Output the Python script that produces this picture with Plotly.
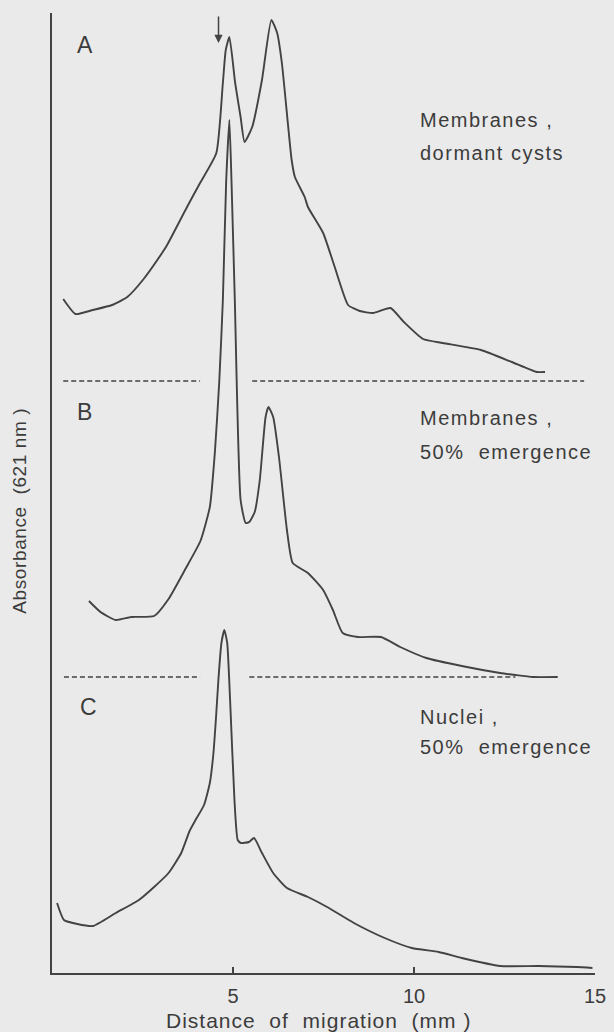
import plotly.graph_objects as go

# ---- data (distance in mm, absorbance in arbitrary units above each trace's baseline) ----
a_x = [0.31, 0.65, 1.13, 1.66, 2.08, 2.51, 3.04, 3.18, 3.73, 4.09, 4.54, 4.72, 4.80, 4.90,
       5.06, 5.21, 5.32, 5.53, 5.80, 6.06, 6.22, 6.35, 6.62, 6.71, 6.98, 7.07, 7.49, 7.81,
       8.18, 8.50, 8.87, 9.35, 9.72, 10.25, 10.79, 11.85, 12.70, 13.39, 13.62]
a_y = [0.82, 0.67, 0.71, 0.76, 0.84, 1.01, 1.28, 1.36, 1.74, 1.98, 2.28, 2.98, 3.31, 3.44,
       2.98, 2.64, 2.39, 2.54, 3.01, 3.61, 3.48, 3.18, 2.21, 2.04, 1.84, 1.74, 1.48, 1.14,
       0.76, 0.70, 0.68, 0.73, 0.59, 0.42, 0.38, 0.31, 0.19, 0.09, 0.09]

b_x = [1.02, 1.34, 1.76, 2.19, 2.82, 3.22, 3.70, 4.10, 4.36, 4.50, 4.62, 4.72, 4.81, 4.90,
       4.96, 5.05, 5.21, 5.35, 5.45, 5.60, 5.74, 5.90, 5.98, 6.11, 6.27, 6.49, 6.65, 7.07,
       7.49, 7.76, 8.03, 8.45, 9.09, 9.62, 10.34, 11.32, 12.38, 12.80, 13.28, 13.97]
b_y = [0.76, 0.65, 0.57, 0.60, 0.61, 0.78, 1.09, 1.36, 1.70, 2.25, 2.95, 3.77, 4.94, 5.57,
       4.94, 3.77, 1.77, 1.54, 1.55, 1.65, 1.97, 2.60, 2.70, 2.60, 2.20, 1.47, 1.14, 1.04,
       0.87, 0.67, 0.44, 0.40, 0.40, 0.30, 0.19, 0.11, 0.04, 0.02, 0.00, 0.00]

c_x = [0.14, 0.33, 0.70, 1.13, 1.76, 2.40, 2.82, 3.22, 3.57, 3.80, 3.95, 4.20, 4.36, 4.46,
       4.53, 4.60, 4.68, 4.76, 4.84, 4.92, 5.04, 5.13, 5.22, 5.44, 5.58, 5.80, 6.11, 6.49,
       7.07, 7.60, 8.34, 9.19, 9.94, 10.68, 11.32, 12.38, 13.44, 14.50, 14.93]
c_y = [0.70, 0.53, 0.49, 0.47, 0.60, 0.73, 0.86, 1.00, 1.20, 1.42, 1.52, 1.68, 1.90, 2.20,
       2.55, 2.95, 3.30, 3.43, 3.30, 2.73, 1.73, 1.33, 1.30, 1.31, 1.35, 1.20, 1.00, 0.85,
       0.76, 0.66, 0.50, 0.35, 0.25, 0.21, 0.15, 0.07, 0.07, 0.06, 0.05]

panel_letters = ["A", "B", "C"]
panel_line1 = ["Membranes ,", "Membranes ,", "Nuclei ,"]
panel_line2 = ["dormant cysts", "50%  emergence", "50%  emergence"]

# baseline segments (mm) drawn dashed for the upper two traces
dash_a = [(0.31, 4.09), (5.53, 14.70)]
dash_b = [(0.33, 4.09), (5.45, 12.80)]

x_ticks = [5, 10, 15]
marker_x = 4.60  # arrow position (mm)

# ---- styling ----
OFF_A, OFF_B, OFF_C = 5.92, 2.96, 0.0
LINE = "#434343"
TXT = "#3c3c3c"
BG = "#eaeaea"
FONT = "Liberation Sans, Arial, sans-serif"


def sp(t, ls=1.2):
    return f'<span style="letter-spacing:{ls}px">{t}</span>'


fig = go.Figure()

for xs, ys, off in [(a_x, a_y, OFF_A), (b_x, b_y, OFF_B), (c_x, c_y, OFF_C)]:
    fig.add_trace(go.Scatter(x=xs, y=[v + off for v in ys], mode="lines",
                             line=dict(color=LINE, width=1.9, shape="spline", smoothing=0.5),
                             hoverinfo="skip"))

for segs, off in [(dash_a, OFF_A), (dash_b, OFF_B)]:
    for x0, x1 in segs:
        fig.add_trace(go.Scatter(x=[x0, x1], y=[off, off], mode="lines",
                                 line=dict(color=LINE, width=1.7, dash="5px,3px"),
                                 hoverinfo="skip"))

annotations = []
letter_pos = [(0.90, 9.28), (0.90, 5.61), (1.01, 2.66)]
for (lx, ly), letter in zip(letter_pos, panel_letters):
    annotations.append(dict(x=lx, y=ly, text=letter, showarrow=False,
                            font=dict(size=23, color=TXT, family=FONT),
                            xanchor="center", yanchor="middle"))

label_rows = [(8.53, 8.20), (5.55, 5.21), (2.56, 2.26)]
for (y1, y2), t1, t2 in zip(label_rows, panel_line1, panel_line2):
    annotations.append(dict(x=10.12, y=y1, text=sp(t1, 1.5), showarrow=False,
                            font=dict(size=20, color=TXT, family=FONT),
                            xanchor="left", yanchor="middle"))
    annotations.append(dict(x=10.12, y=y2, text=sp(t2, 1.5), showarrow=False,
                            font=dict(size=20, color=TXT, family=FONT),
                            xanchor="left", yanchor="middle"))

# arrow marker
annotations.append(dict(x=marker_x, y=9.30, ax=marker_x, ay=9.58, xref="x", yref="y",
                        axref="x", ayref="y", text="", showarrow=True,
                        arrowhead=2, arrowsize=1.1, arrowwidth=1.5, arrowcolor=LINE))

# axis titles
annotations.append(dict(x=-34 / 554, y=(973 - 511) / 960, xref="paper", yref="paper",
                        text=sp("Absorbance  (621 nm )", 0.6), textangle=-90, showarrow=False,
                        font=dict(size=19, color=TXT, family=FONT),
                        xanchor="center", yanchor="middle"))
annotations.append(dict(x=7.35, y=-47 / 960, xref="x", yref="paper",
                        text=sp("Distance  of  migration  (mm )", 1.0), showarrow=False,
                        font=dict(size=21, color=TXT, family=FONT),
                        xanchor="center", yanchor="middle"))

fig.update_layout(
    width=614, height=1032,
    margin=dict(l=52, r=8, t=13, b=59),
    paper_bgcolor=BG, plot_bgcolor=BG,
    showlegend=False,
    annotations=annotations,
    font=dict(family=FONT, color=TXT),
)
fig.update_xaxes(range=[0, 15], showgrid=False, zeroline=False, showline=True,
                 linecolor=LINE, linewidth=1.8, ticks="inside", ticklen=6, tickwidth=1.6,
                 tickcolor=LINE, tickvals=x_ticks, ticktext=[str(t) for t in x_ticks],
                 tickfont=dict(size=20, color=TXT, family=FONT), ticklabelstandoff=4,
                 ticklabeloverflow="allow")
fig.update_yaxes(range=[0, 9.6], showgrid=False, zeroline=False, showline=True,
                 linecolor=LINE, linewidth=1.8, showticklabels=False, ticks="")

fig.write_html("out.html",
               config={"displayModeBar": False, "staticPlot": True},
               post_script="document.body.style.margin='0';document.body.style.padding='0';"
                           "document.body.style.background='" + BG + "';"
                           "document.body.style.overflow='hidden';")
